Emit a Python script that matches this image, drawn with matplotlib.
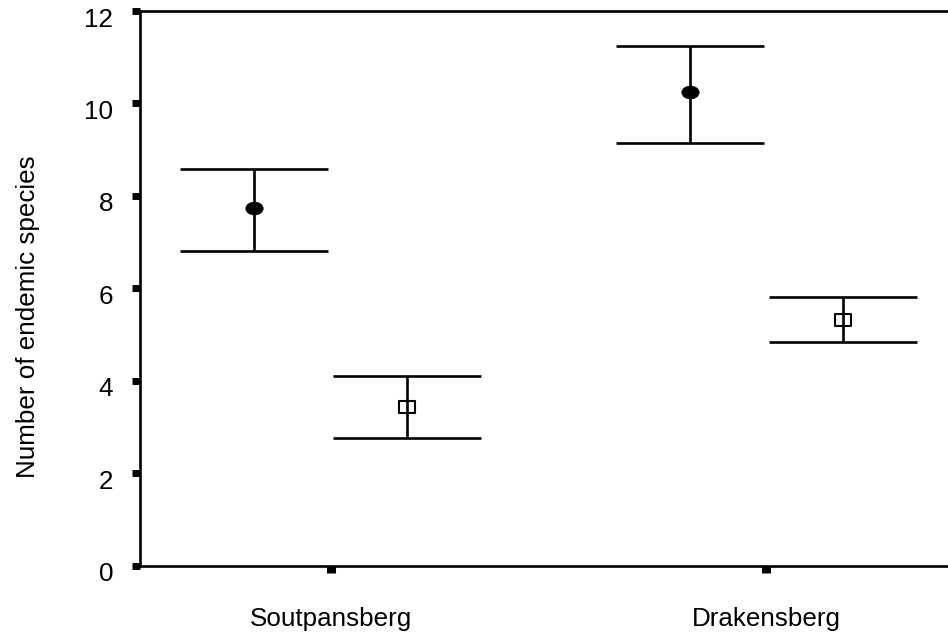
import matplotlib
matplotlib.use('Agg')
import matplotlib.pyplot as plt
import matplotlib.transforms as mtransforms
from matplotlib.path import Path
import numpy as np

plt.rcParams['font.family'] = ['Liberation Sans', 'DejaVu Sans']

# data
regions = ['Soutpansberg', 'Drakensberg']
filled_mean = [7.73, 10.24]
filled_upper = [8.58, 11.25]
filled_lower = [6.81, 9.14]
open_mean = [3.44, 5.31]
open_upper = [4.11, 5.82]
open_lower = [2.77, 4.84]
yticks = [0, 2, 4, 6, 8, 10, 12]

LW = 1.9
FS = 18.7

# squashed markers (picture is stretched horizontally)
circ = Path.unit_circle()
ellipse = Path(circ.vertices * [1.0, 0.74], circ.codes)
rect = Path([(-1, -0.74), (1, -0.74), (1, 0.74), (-1, 0.74), (-1, -0.74)],
            [Path.MOVETO, Path.LINETO, Path.LINETO, Path.LINETO, Path.CLOSEPOLY])

fig = plt.figure(figsize=(9.48, 6.33), dpi=100)
ax = fig.add_axes([0.1481, 0.1066, 1.0, 0.876])

x = np.arange(1, len(regions) + 1)
off = 0.176

fm = np.array(filled_mean)
om = np.array(open_mean)
ferr = [fm - np.array(filled_lower), np.array(filled_upper) - fm]
oerr = [om - np.array(open_lower), np.array(open_upper) - om]

ax.errorbar(x - off, fm, yerr=ferr, fmt='none', ecolor='black', elinewidth=LW,
            capsize=53.6, capthick=LW)
ax.errorbar(x + off, om, yerr=oerr, fmt='none', ecolor='black', elinewidth=LW,
            capsize=53.6, capthick=LW)
ax.plot(x - off, fm, linestyle='none', marker=ellipse, markersize=12.5,
        markerfacecolor='black', markeredgecolor='black', markeredgewidth=0.5)
ax.plot(x + off, om, linestyle='none', marker=rect, markersize=11.3,
        markerfacecolor='none', markeredgecolor='black', markeredgewidth=1.5)

ax.set_xlim(0.5631, 0.5631 + 948 / 435.6)
ax.set_ylim(0, 12)
ax.set_yticks(yticks)
ax.set_xticks(x)
ax.set_xticklabels(regions)

for s in ['left', 'bottom', 'top']:
    ax.spines[s].set_linewidth(LW)
ax.spines['right'].set_visible(False)

ax.tick_params(axis='y', direction='out', length=5.8, width=5, pad=13.7,
               labelsize=FS)
ax.tick_params(axis='x', direction='out', length=5, width=6.5, pad=25,
               labelsize=FS)

shift = mtransforms.ScaledTranslation(0, -6 / 100, fig.dpi_scale_trans)
for lab in ax.get_yticklabels():
    lab.set_transform(lab.get_transform() + shift)

fig.text(28 / 948, 1 - 316.7 / 633, 'Number of endemic species', rotation=90,
         ha='center', va='center', fontsize=FS)

fig.savefig('out.png', dpi=100)
